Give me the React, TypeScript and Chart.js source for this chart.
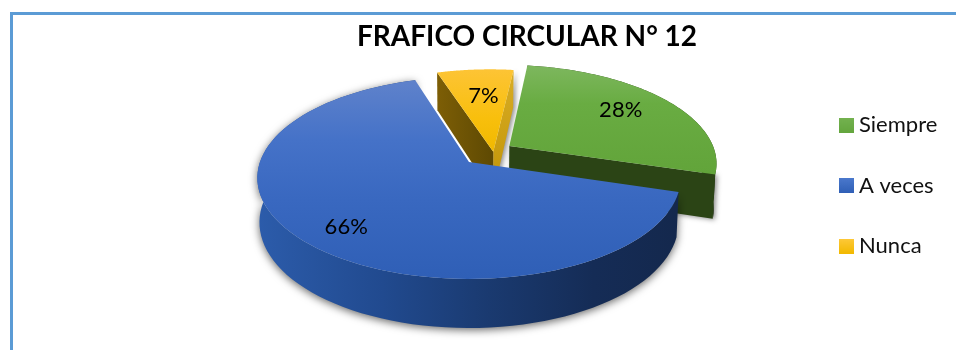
import React, { useEffect, useRef } from "react";
import { Chart, registerables } from "chart.js";

Chart.register(...registerables);

const titleText = "FRAFICO CIRCULAR N° 12";
const categories = ["Siempre", "A veces", "Nunca"];
const values = [8, 19, 2];
const sliceColors = ["#68ab42", "#3a69c1", "#f9be14"];

const FONT = "Lato, Carlito, 'Open Sans', sans-serif";

// view geometry, all in multiples of the pie radius
const K = 0.158;
const XS = 2.122;
const explode = [
  [0.198, -0.167],
  [0, 0],
  [0.118, -0.105],
];
const labelAt = [0.72, 0.8, 0.645];
const labelTurn = [-0.03, -0.055, 0.02];

const faces = [
  [[0, "#7db75e"], [0.35, "#69ac42"], [1, "#62a43a"]],
  [[0, "#5f82cb"], [0.3, "#4572c8"], [0.6, "#3968c0"], [1, "#2f5fb6"]],
  [[0, "#fdc435"], [0.6, "#f8bf0c"], [1, "#f0b800"]],
];
const legendFaces = [
  ["#74b250", "#64a63e"],
  ["#4a78cc", "#2f5fb6"],
  ["#fec93a", "#f2b900"],
];

function legendSwatch(i: number) {
  const c = document.createElement("canvas");
  c.width = 15;
  c.height = 15;
  const x = c.getContext("2d")!;
  const g = x.createLinearGradient(0, 0, 0, 15);
  g.addColorStop(0, legendFaces[i][0]);
  g.addColorStop(1, legendFaces[i][1]);
  x.fillStyle = g;
  x.fillRect(0, 0, 15, 15);
  return c;
}

const pie3d = {
  id: "pie3d",
  afterLayout(chart: any) {
    const lg = chart.legend;
    const p = lg.options.labels.padding;
    lg.left = 845 - p;
    lg.right = 956;
    lg.top = 114 - p;
    lg.bottom = 300;
    chart.chartArea = { left: 270, right: 668, top: 63.5, bottom: 260.5, width: 398, height: 197 };
  },
  beforeDatasetDraw() {
    return false;
  },
  afterDatasetsDraw(chart: any) {
    const ctx: CanvasRenderingContext2D = chart.ctx;
    const arcs = chart.getDatasetMeta(0).data;
    const R = arcs[0].outerRadius;
    const X = arcs[0].x;
    const Y = arcs[0].y;

    const pt = (u: number, v: number, low = false) => {
      const w = 1 - K * v;
      const xs = low ? 0.99 : 1;
      const d = low ? (0.442 + 0.056 * v) * R : 0;
      return [X + (XS * R * xs * u) / w, Y + (R * v) / w + d];
    };
    const at = (i: number, a: number, r = 1) => [
      explode[i][0] + r * Math.cos(a),
      explode[i][1] + r * Math.sin(a),
    ];
    const trace = (pts: number[][]) => {
      ctx.beginPath();
      pts.forEach((p, n) => (n ? ctx.lineTo(p[0], p[1]) : ctx.moveTo(p[0], p[1])));
      ctx.closePath();
    };
    const arcPts = (i: number, a0: number, a1: number, low = false) => {
      const out: number[][] = [];
      for (let s = 0; s <= 90; s++) {
        const [u, v] = at(i, a0 + ((a1 - a0) * s) / 90);
        out.push(pt(u, v, low));
      }
      return out;
    };
    const radialWall = (i: number, a: number, fill: any, shadow = false) => {
      const [u0, v0] = at(i, a, 0);
      const [u1, v1] = at(i, a);
      ctx.save();
      if (shadow) {
        ctx.shadowColor = "rgba(0,0,0,0.45)";
        ctx.shadowBlur = 5;
        ctx.shadowOffsetX = 2;
        ctx.shadowOffsetY = 1;
      }
      trace([pt(u0, v0), pt(u1, v1), pt(u1, v1, true), pt(u0, v0, true)]);
      ctx.fillStyle = fill;
      ctx.fill();
      ctx.restore();
    };
    const top = (i: number, a0: number, a1: number) => {
      const [u0, v0] = at(i, a0, 0);
      const pts = [pt(u0, v0), ...arcPts(i, a0, a1)];
      const ys = pts.map((p) => p[1]);
      const g = ctx.createLinearGradient(0, Math.min(...ys), 0, Math.max(...ys));
      faces[i].forEach((s: any) => g.addColorStop(s[0], s[1]));
      trace(pts);
      ctx.fillStyle = g;
      ctx.fill();
    };
    const rim = (i: number, a0: number, a1: number, fill: any, shadow: boolean) => {
      const pts = [...arcPts(i, a0, a1), ...arcPts(i, a0, a1, true).reverse()];
      ctx.save();
      if (shadow) {
        ctx.shadowColor = "rgba(0,0,0,0.6)";
        ctx.shadowBlur = 8;
        ctx.shadowOffsetY = 2;
      }
      trace(pts);
      ctx.fillStyle = fill;
      ctx.fill();
      ctx.restore();
    };

    const [green, blue, yellow] = arcs;

    // Nunca, the slice at the back
    const yl = ctx.createLinearGradient(437, 0, 491, 0);
    yl.addColorStop(0, "#7d5e06");
    yl.addColorStop(1, "#5f4a03");
    const yr = ctx.createLinearGradient(0, 69, 0, 190);
    yr.addColorStop(0, "#d9ad25");
    yr.addColorStop(1, "#c19407");
    radialWall(2, yellow.endAngle, yr, true);
    radialWall(2, yellow.startAngle, yl);
    top(2, yellow.startAngle, yellow.endAngle);

    // Siempre
    rim(0, green.startAngle, green.endAngle, "#2a4314", false);
    radialWall(0, green.endAngle, "#2b4415", true);
    top(0, green.startAngle, green.endAngle);

    // A veces, in front of the others
    const br = ctx.createLinearGradient(256, 0, 678, 0);
    br.addColorStop(0, "#2c5cab");
    br.addColorStop(0.3, "#214a8f");
    br.addColorStop(0.55, "#1a3a70");
    br.addColorStop(0.8, "#152c56");
    br.addColorStop(1, "#14284d");
    rim(1, blue.startAngle, Math.min(blue.endAngle, (3 * Math.PI) / 2 - 0.2), br, true);
    top(1, blue.startAngle, blue.endAngle);

    // value labels
    const total = values.reduce((a, b) => a + b, 0);
    ctx.fillStyle = "#000";
    ctx.font = `22px ${FONT}`;
    ctx.textAlign = "center";
    ctx.textBaseline = "middle";
    arcs.forEach((arc: any, i: number) => {
      const mid = (arc.startAngle + arc.endAngle) / 2 + labelTurn[i];
      const [u, v] = at(i, mid, labelAt[i]);
      const [x, y] = pt(u, v);
      ctx.fillText(`${Math.round((values[i] / total) * 100)}%`, x, y);
    });
  },
};

export default function App() {
  const ref = useRef<HTMLCanvasElement>(null);
  useEffect(() => {
    const chart = new Chart(ref.current!, {
      type: "pie",
      data: {
        labels: categories,
        datasets: [{ data: values, backgroundColor: sliceColors, borderWidth: 0 }],
      },
      options: {
        responsive: false,
        animation: false,
        rotation: 7.6,
        layout: { padding: { left: 98 } },
        plugins: {
          tooltip: { enabled: false },
          title: {
            display: true,
            text: titleText,
            color: "#000",
            font: { family: FONT, size: 28, weight: "bold" },
            padding: { top: 20, bottom: 0 },
          },
          legend: {
            position: "right",
            align: "start",
            labels: {
              usePointStyle: true,
              boxWidth: 3,
              boxHeight: 15,
              padding: 38.5,
              color: "#111",
              font: { family: FONT, size: 22 },
              generateLabels: (c: any) =>
                (Chart as any).overrides.pie.plugins.legend.labels
                  .generateLabels(c)
                  .map((it: any, i: number) => ({ ...it, pointStyle: legendSwatch(i) })),
            },
          },
        },
      } as any,
      plugins: [pie3d as any],
    });
    return () => chart.destroy();
  }, []);
  return (
    <div style={{ position: "absolute", left: 0, top: 0, width: 956, height: 350, overflow: "hidden", background: "#fff" }}>
      <div
        style={{
          position: "absolute",
          left: 10,
          top: 12,
          width: 960,
          height: 350,
          borderLeft: "3px solid #5b9bd5",
          borderTop: "3px solid #5b9bd5",
        }}
      />
      <canvas ref={ref} width={956} height={350} style={{ position: "absolute", left: 0, top: 0, display: "block" }} />
    </div>
  );
}
